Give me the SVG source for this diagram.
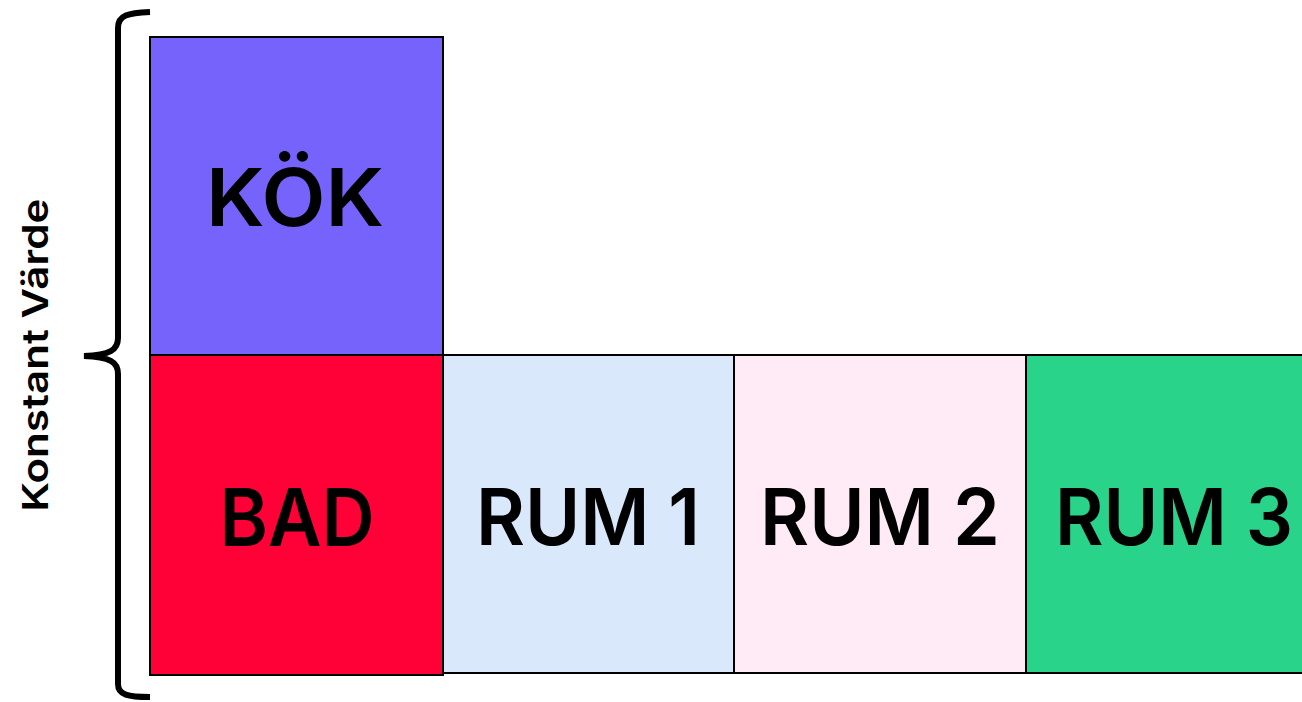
<svg xmlns="http://www.w3.org/2000/svg" width="1302" height="702" viewBox="0 0 1302 702">
<style>
.box{stroke:#000;stroke-width:2}
.lbl{font-family:Inter,"Liberation Sans",sans-serif;font-weight:600;fill:#000;text-anchor:middle}
.big{font-size:80px}
.rum{font-size:78px}
</style>
<rect width="1302" height="702" fill="#fff"/>
<g id="connectors">
<path d="M150,12 C128,13 118,15 118,28 L118,338 C118,350 110,355 84,356 C110,357 118,362 118,374 L118,684 C118,695 128,697 150,697" fill="none" stroke="#000" stroke-width="6"/>
</g>
<g id="label-konstant"><text class="lbl" transform="translate(48,355) rotate(-90)" font-size="36" textLength="313" lengthAdjust="spacingAndGlyphs">Konstant Värde</text></g>
<g id="kok"><rect class="box" x="150" y="37" width="293" height="318" fill="#7563fb"/><text class="lbl big" x="295" y="226" textLength="178" lengthAdjust="spacingAndGlyphs">KÖK</text></g>
<g id="bad"><rect class="box" x="150" y="355" width="293" height="320" fill="#ff0037"/><text class="lbl big" x="297" y="546" textLength="155" lengthAdjust="spacingAndGlyphs">BAD</text></g>
<g id="rum1"><rect class="box" x="443" y="355" width="291" height="318" fill="#dae8fc"/><text class="lbl rum" x="588" y="545" textLength="224" lengthAdjust="spacingAndGlyphs">RUM 1</text></g>
<g id="rum2"><rect class="box" x="734" y="355" width="292" height="318" fill="#ffebf5"/><text class="lbl rum" x="880" y="545" textLength="240" lengthAdjust="spacingAndGlyphs">RUM 2</text></g>
<g id="rum3"><rect class="box" x="1026" y="355" width="292" height="318" fill="#29d38a"/><text class="lbl rum" x="1174" y="545" textLength="238" lengthAdjust="spacingAndGlyphs">RUM 3</text></g>
</svg>
